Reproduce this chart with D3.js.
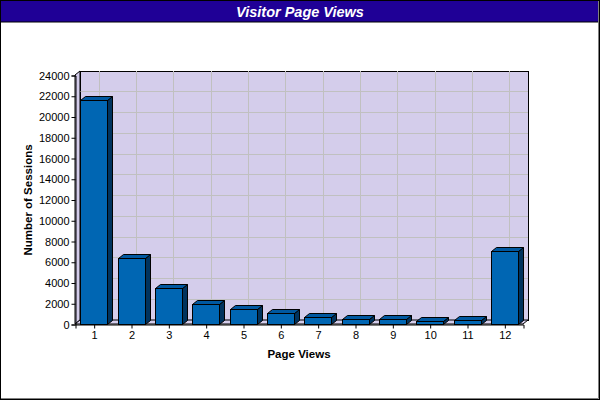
<!DOCTYPE html>
<html><head><meta charset="utf-8">
<script src="https://cdn.jsdelivr.net/npm/d3@7/dist/d3.min.js"></script>
<style>body{margin:0;background:#fff}svg{display:block}</style>
</head><body>
<script>
const categories = ["1","2","3","4","5","6","7","8","9","10","11","12"];
const sessions = [21600, 6350, 3450, 1900, 1400, 1030, 700, 510, 510, 320, 415, 7080];
const yTicks = [0,2000,4000,6000,8000,10000,12000,14000,16000,18000,20000,22000,24000];
const titleText = "Visitor Page Views";
const xLabel = "Page Views";
const yLabel = "Number of Sessions";

const W = 600, H = 400;
const L = 75, R = 523, T = 75, B = 324;
const dx = 5, dy = 4;

const svg = d3.select("body").append("svg").attr("width", W).attr("height", H);
svg.append("rect").attr("x",0).attr("y",0).attr("width",W).attr("height",H).attr("fill","#fff");

const xc = d3.scalePoint().domain(categories).range([L, R]).padding(0.5);
const y = d3.scaleLinear().domain([0, 24000]).range([B, T]);

const g = svg.append("g");
// back wall
g.append("rect").attr("x", L+dx).attr("y", T-dy).attr("width", R-L).attr("height", B-T)
  .attr("fill", "#d4cdeb").attr("stroke","#000").attr("stroke-width",1).attr("shape-rendering","crispEdges");
// grid
g.selectAll(".hg").data(yTicks.slice(1,-1)).enter().append("line")
  .attr("x1", L+dx).attr("x2", R+dx).attr("y1", d=>y(d)-dy).attr("y2", d=>y(d)-dy)
  .attr("stroke","#c0c0c0").attr("shape-rendering","crispEdges");
g.selectAll(".vg").data(categories).enter().append("line")
  .attr("x1", d=>Math.round(xc(d))+dx).attr("x2", d=>Math.round(xc(d))+dx).attr("y1", T-dy).attr("y2", B-dy)
  .attr("stroke","#c0c0c0").attr("shape-rendering","crispEdges");
// left wall
g.append("path").attr("d", `M${L},${T}L${L+dx},${T-dy}L${L+dx},${B-dy}L${L},${B}Z`)
  .attr("fill","#d4cdeb").attr("stroke","#000").attr("stroke-width",1);
// floor
g.append("path").attr("d", `M${L},${B}L${L+dx},${B-dy}L${R+dx},${B-dy}L${R},${B}Z`)
  .attr("fill","#d4cdeb").attr("stroke","#000").attr("stroke-width",1);

// bars
const bars = g.selectAll(".bar").data(categories).enter().append("g");
bars.each(function(d,i){
  const s = d3.select(this);
  const x0 = Math.round(xc(d) - 13.5) + 0.5, x1 = x0 + 27;
  const yt = Math.round(y(sessions[i])) + 0.5, yb = B + 0.5;
  s.append("path").attr("d", `M${x1},${yt}L${x1+dx},${yt-dy}L${x1+dx},${yb-dy}L${x1},${yb}Z`)
    .attr("fill","#00335e").attr("stroke","#000");
  s.append("path").attr("d", `M${x0},${yt}L${x0+dx},${yt-dy}L${x1+dx},${yt-dy}L${x1},${yt}Z`)
    .attr("fill","#0058a0").attr("stroke","#000");
  s.append("rect").attr("x", x0).attr("y", yt).attr("width", x1-x0).attr("height", yb-yt)
    .attr("fill","#0066b3").attr("stroke","#000");
});

// axes
const yAxis = d3.axisLeft(y).tickValues(yTicks).tickSize(4).tickPadding(2).tickFormat(d3.format("d"));
const ya = svg.append("g").attr("transform", `translate(${L+0.5},0.5)`).call(yAxis);
const xAxis = d3.axisBottom(xc).tickSize(4).tickPadding(3);
const xa = svg.append("g").attr("transform", `translate(0.5,${B+0.5})`).call(xAxis);
[ya, xa].forEach(a => {
  a.selectAll("text").attr("font-family","Arial, 'Liberation Sans', sans-serif").attr("font-size","11px").attr("fill","#000");
  a.selectAll("line").attr("stroke","#000");
  a.select(".domain").attr("stroke","#000");
});

svg.append("text").attr("x", 299).attr("y", 358).attr("text-anchor","middle")
  .attr("font-family","Arial, 'Liberation Sans', sans-serif").attr("font-weight","bold").attr("font-size","11.5px").text(xLabel);
svg.append("text").attr("transform","translate(32,200) rotate(-90)").attr("text-anchor","middle")
  .attr("font-family","Arial, 'Liberation Sans', sans-serif").attr("font-weight","bold").attr("font-size","11.5px").text(yLabel);

// title band
svg.append("rect").attr("x",0.5).attr("y",0.5).attr("width",W-1).attr("height",21.5)
  .attr("fill","#1f0096").attr("stroke","#000");
svg.append("text").attr("x", 300).attr("y", 17).attr("text-anchor","middle")
  .attr("font-family","Arial, 'Liberation Sans', sans-serif").attr("font-style","italic").attr("font-weight","bold")
  .attr("font-size","14.5px").attr("fill","#fff").text(titleText);

// outer border
svg.append("rect").attr("x",0.5).attr("y",0.5).attr("width",W-1).attr("height",H-1)
  .attr("fill","none").attr("stroke","#000");
svg.append("path").attr("d",`M${W-1.5},1L${W-1.5},${H-1.5}L1,${H-1.5}`).attr("fill","none").attr("stroke","#808080");
</script>
</body></html>
